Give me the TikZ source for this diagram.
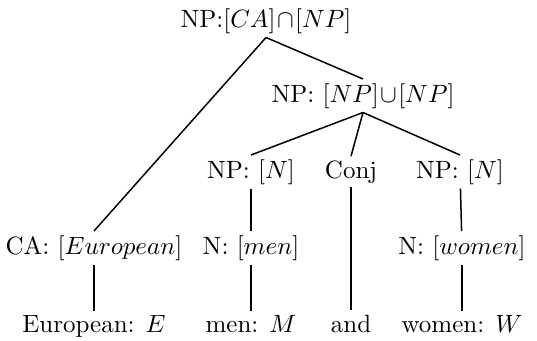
\documentclass[tikz,border=0pt]{standalone}
\usepackage{amsmath,amssymb}
\usepackage{tikz}
\begin{document}
\begin{tikzpicture}[x=0.4pt, y=-0.4pt,
        lbl/.style={anchor=base, inner sep=1.5pt},
        br/.style={line width=0.6pt}]
        \useasboundingbox (0,0) rectangle (537,340);
        % upper levels
        \node[lbl] (root)  at (266,27)  {NP:$[CA]\!\cap\![NP]$};
        \node[lbl] (np2)   at (363,102) {NP: $[NP]\!\cup\![NP]$};
        \node[lbl] (npmen) at (251,178) {NP: $[N]$};
        \node[lbl] (conj)  at (351,178) {Conj};
        \node[lbl] (npwom) at (460,178) {NP: $[N]$};
        % lexical level
        \node[lbl] (ca)    at (94,254)  {CA: $[European]$};
        \node[lbl] (nmen)  at (251,254) {N: $[men]$};
        \node[lbl] (nwom)  at (462,254) {N: $[women]$};
        % words
        \node[lbl] (eur)   at (94,332)  {European: $E$};
        \node[lbl] (men)   at (251,332) {men: $M$};
        \node[lbl] (and)   at (351,332) {and};
        \node[lbl] (wom)   at (462,332) {women: $W$};
        \draw[br] (root.south) -- (ca.north);
        \draw[br] (root.south) -- (np2.north);
        \draw[br] (np2.south) -- (npmen.north);
        \draw[br] (np2.south) -- (conj.north);
        \draw[br] (np2.south) -- (npwom.north);
        \draw[br] (npmen) -- (nmen); \draw[br] (npwom) -- (nwom);
        \draw[br] (conj) -- (and);
        \draw[br] (ca) -- (eur); \draw[br] (nmen) -- (men); \draw[br] (nwom) -- (wom);
      \end{tikzpicture}
\end{document}
